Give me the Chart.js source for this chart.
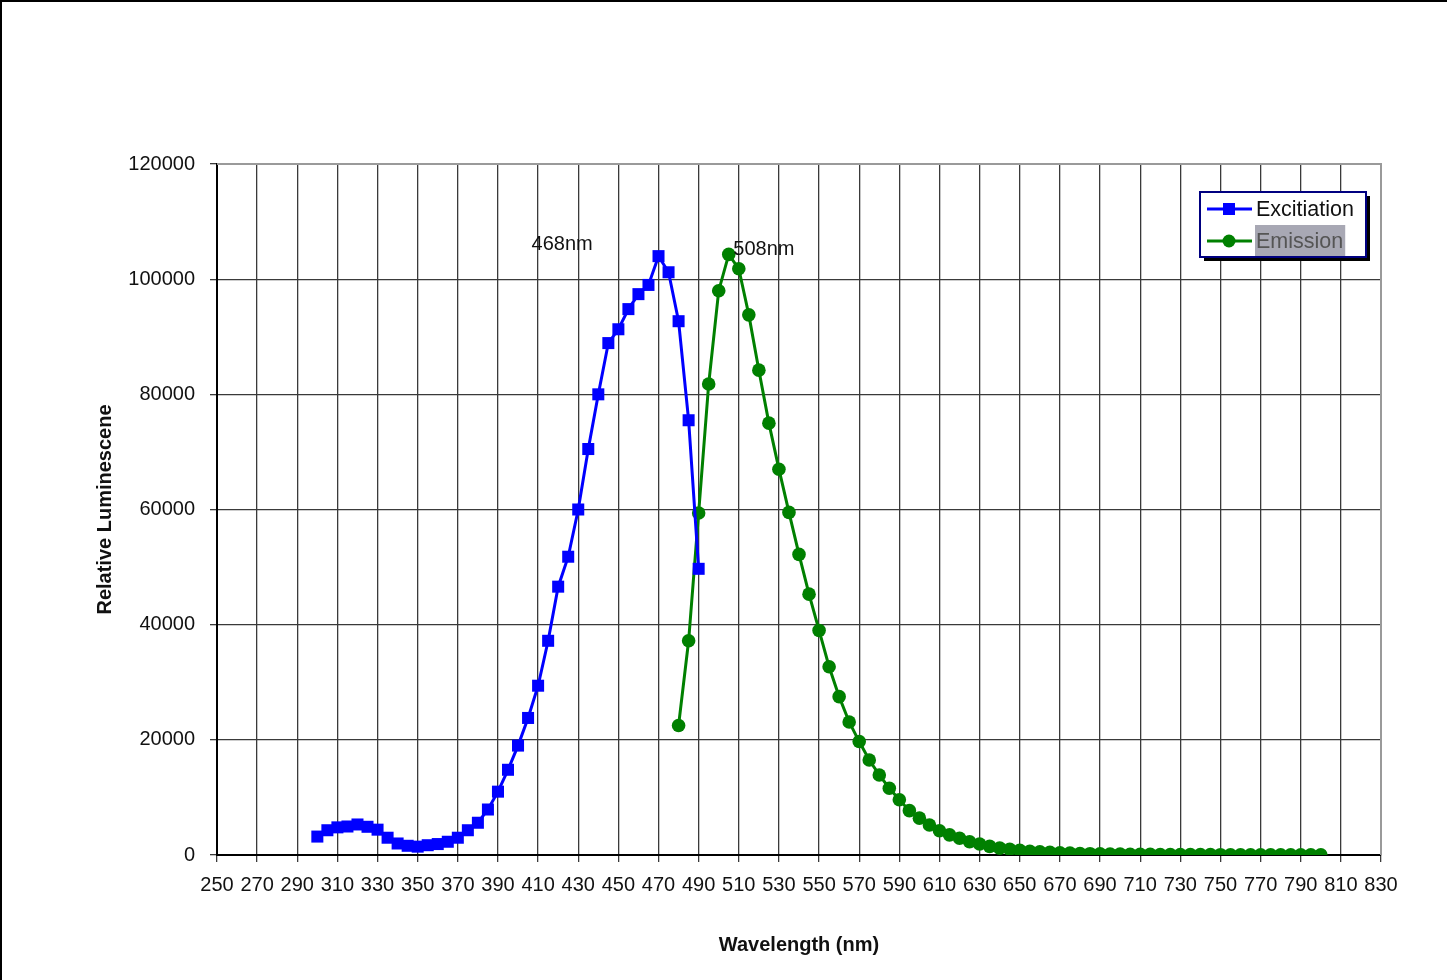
<!DOCTYPE html>
<html>
<head>
<meta charset="utf-8">
<script src="https://cdn.jsdelivr.net/npm/chart.js@4.4.1/dist/chart.umd.min.js"></script>
<style>
  html, body { margin: 0; padding: 0; background: #fff; }
  #wrap { position: relative; width: 1447px; height: 980px; overflow: hidden; }
  #frame { position: absolute; left: 0; top: 0; width: 1447px; height: 980px; border-top: 2px solid #000; border-left: 2px solid #000; box-sizing: border-box; pointer-events: none; }
  canvas { display: block; }
</style>
</head>
<body>
<div id="wrap">
  <canvas id="c" width="1447" height="980"></canvas>
  <div id="frame"></div>
</div>
<script>
// ---- Data ----
const excitationWavelengths = [300,305,310,315,320,325,330,335,340,345,350,355,360,365,370,375,380,385,390,395,400,405,410,415,420,425,430,435,440,445,450,455,460,465,470,475,480,485,490];
const excitationValues = [3200,4300,4800,4950,5300,4900,4400,3000,2000,1600,1450,1700,1900,2300,3000,4300,5600,7900,11000,14800,19000,23800,29400,37200,46600,51800,60000,70500,80000,88900,91300,94800,97400,99000,104000,101200,92700,75500,49700];

const emissionWavelengths = [480,485,490,495,500,505,510,515,520,525,530,535,540,545,550,555,560,565,570,575,580,585,590,595,600,605,610,615,620,625,630,635,640,645,650,655,660,665,670,675,680,685,690,695,700,705,710,715,720,725,730,735,740,745,750,755,760,765,770,775,780,785,790,795,800];
const emissionValues = [22500,37200,59400,81800,98000,104300,101800,93800,84200,75000,67000,59500,52200,45300,39000,32700,27500,23100,19700,16500,13900,11600,9600,7700,6400,5200,4200,3500,2900,2300,1900,1500,1200,1000,800,650,550,450,380,320,270,230,200,170,150,130,115,100,90,80,75,70,65,60,55,50,50,45,45,40,40,40,35,35,35];

const xTickValues = [250,270,290,310,330,350,370,390,410,430,450,470,490,510,530,550,570,590,610,630,650,670,690,710,730,750,770,790,810,830];
const seriesNames = ['Excitiation', 'Emission'];
const peakLabels = [
  { text: '468nm', x: 422, y: 106100 },
  { text: '508nm', x: 522.5, y: 105100 }
];
const axisTitles = { x: 'Wavelength (nm)', y: 'Relative Luminescene' };

// ---- Build datasets ----
const excData = excitationWavelengths.map((w, i) => ({ x: w, y: excitationValues[i] }));
const emData = emissionWavelengths.map((w, i) => ({ x: w, y: emissionValues[i] }));

const FONT = "'Liberation Sans', Arial, sans-serif";
const GRID = '#3a3a3a';

const annotationPlugin = {
  id: 'annot',
  afterDatasetsDraw(chart) {
    const ctx = chart.ctx;
    const xs = chart.scales.x, ys = chart.scales.y;
    ctx.save();
    ctx.font = '20px ' + FONT;
    ctx.fillStyle = '#111';
    ctx.textAlign = 'center';
    ctx.textBaseline = 'middle';
    peakLabels.forEach(p => {
      ctx.fillText(p.text, xs.getPixelForValue(p.x), ys.getPixelForValue(p.y));
    });
    ctx.restore();
  }
};

const frameLinesPlugin = {
  id: 'frameLines',
  afterDatasetsDraw(chart) {
    const a = chart.chartArea;
    const ctx = chart.ctx;
    ctx.save();
    ctx.strokeStyle = '#9a9a9a';
    ctx.lineWidth = 2;
    ctx.beginPath();
    ctx.moveTo(a.left, a.top);
    ctx.lineTo(a.right, a.top);
    ctx.lineTo(a.right, a.bottom);
    ctx.stroke();
    ctx.restore();
  }
};

const legendPlugin = {
  id: 'customLegend',
  afterDraw(chart) {
    const ctx = chart.ctx;
    const bx = 1200, by = 192, bw = 166, bh = 65;
    ctx.save();
    ctx.fillStyle = '#000';
    ctx.fillRect(bx + 4, by + 4, bw, bh);
    ctx.fillStyle = '#fff';
    ctx.fillRect(bx, by, bw, bh);
    ctx.strokeStyle = '#000080';
    ctx.lineWidth = 2;
    ctx.strokeRect(bx, by, bw, bh);

    const ds = chart.data.datasets;
    const rows = [by + 17, by + 49];
    ds.forEach((d, i) => {
      const yy = rows[i];
      ctx.strokeStyle = d.borderColor;
      ctx.lineWidth = 3;
      ctx.beginPath();
      ctx.moveTo(bx + 7, yy);
      ctx.lineTo(bx + 52, yy);
      ctx.stroke();
      ctx.fillStyle = d.pointBackgroundColor;
      if (d.pointStyle === 'rect') {
        ctx.fillRect(bx + 29 - 6, yy - 6, 12, 12);
      } else {
        ctx.beginPath();
        ctx.arc(bx + 29, yy, 6.5, 0, Math.PI * 2);
        ctx.fill();
      }
      ctx.font = '21.5px ' + FONT;
      if (i === 1) {
        const w = ctx.measureText(d.label).width;
        ctx.fillStyle = '#a8a8b4';
        ctx.fillRect(bx + 55, yy - 16, w + 3, 31);
      }
      ctx.fillStyle = i === 1 ? '#555' : '#111';
      ctx.textAlign = 'left';
      ctx.textBaseline = 'middle';
      ctx.fillText(d.label, bx + 56, yy + 1);
    });
    ctx.restore();
  }
};

new Chart(document.getElementById('c'), {
  type: 'scatter',
  data: {
    datasets: [
      {
        label: seriesNames[0],
        data: excData,
        showLine: true,
        borderColor: '#0000ff',
        backgroundColor: '#0000ff',
        pointBackgroundColor: '#0000ff',
        pointBorderColor: '#0000ff',
        pointStyle: 'rect',
        pointRadius: 8.5,
        pointBorderWidth: 0,
        borderWidth: 3,
        tension: 0
      },
      {
        label: seriesNames[1],
        data: emData,
        showLine: true,
        borderColor: '#008000',
        backgroundColor: '#008000',
        pointBackgroundColor: '#008000',
        pointBorderColor: '#008000',
        pointStyle: 'circle',
        pointRadius: 6.8,
        pointBorderWidth: 0,
        borderWidth: 3,
        tension: 0
      }
    ]
  },
  options: {
    responsive: false,
    animation: false,
    events: [],
    layout: { padding: { left: 0, top: 164, right: 66, bottom: 0 } },
    plugins: {
      legend: { display: false },
      tooltip: { enabled: false },
      title: { display: false }
    },
    scales: {
      x: {
        type: 'linear',
        min: 250,
        max: 830,
        afterBuildTicks(scale) { scale.ticks = xTickValues.map(v => ({ value: v })); },
        afterFit(scale) { scale.height = 125; },
        ticks: {
          color: '#111',
          font: { family: FONT, size: 20 },
          padding: 11,
          maxRotation: 0,
          autoSkip: false,
          callback: v => String(v)
        },
        grid: { color: GRID, lineWidth: 1.3, tickLength: 7, drawTicks: true },
        border: { color: '#000', width: 2 },
        title: {
          display: true,
          text: axisTitles.x,
          color: '#111',
          font: { family: FONT, size: 20, weight: 'bold' },
          padding: { top: 0, bottom: 23 }
        }
      },
      y: {
        type: 'linear',
        min: 0,
        max: 120000,
        afterFit(scale) { scale.width = 217; },
        ticks: {
          stepSize: 20000,
          color: '#111',
          font: { family: FONT, size: 20 },
          padding: 15,
          callback: v => String(v)
        },
        grid: { color: GRID, lineWidth: 1.3, tickLength: 7, drawTicks: true },
        border: { color: '#000', width: 2 },
        title: {
          display: true,
          text: axisTitles.y,
          color: '#111',
          font: { family: FONT, size: 20, weight: 'bold' },
          padding: { top: 93, bottom: 0 }
        }
      }
    }
  },
  plugins: [annotationPlugin, frameLinesPlugin, legendPlugin]
});
</script>
</body>
</html>
